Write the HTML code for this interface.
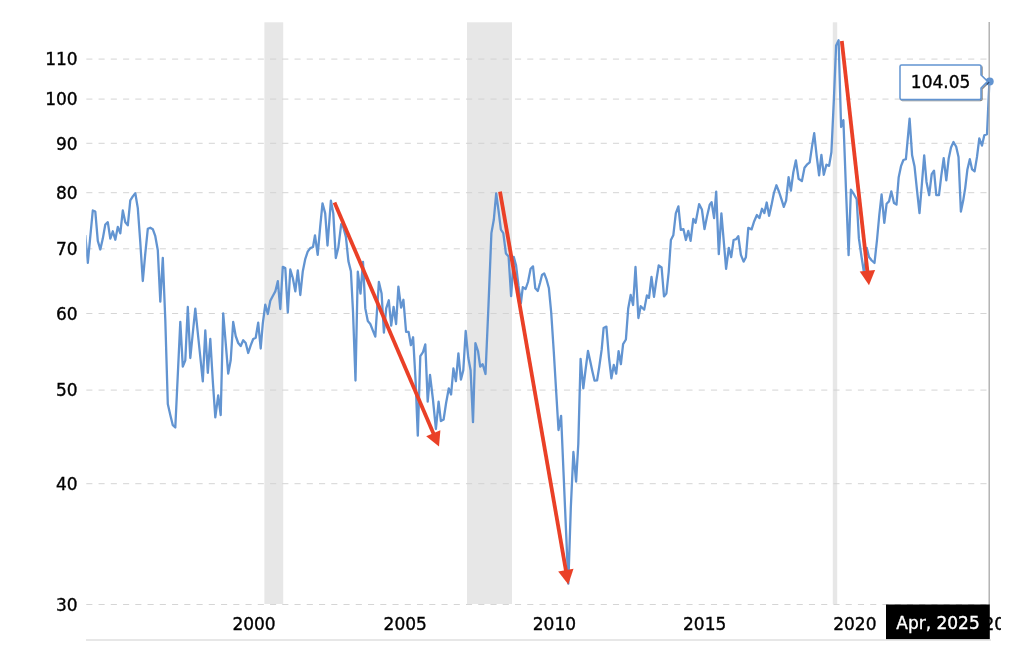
<!DOCTYPE html>
<html lang="en"><head><meta charset="utf-8"><title>Chart</title>
<style>html,body{margin:0;padding:0;background:#fff;}body{width:1024px;height:666px;overflow:hidden;}svg{display:block;}</style>
</head><body>
<svg width="1024" height="666" viewBox="0 0 1024 666">
<defs><clipPath id="cl"><rect x="0" y="0" width="1001" height="666"/></clipPath><clipPath id="pl"><rect x="86.2" y="20" width="905" height="600"/></clipPath><filter id="sh" x="-10%" y="-20%" width="125%" height="150%"><feDropShadow dx="1" dy="1" stdDeviation="0.6" flood-color="#000" flood-opacity="0.45"/></filter></defs>
<rect width="1024" height="666" fill="#fff"/>
<rect x="264.4" y="22.3" width="18.8" height="581.7" fill="#e7e7e7"/>
<rect x="467.0" y="22.3" width="45.0" height="581.7" fill="#e7e7e7"/>
<rect x="832.8" y="22.3" width="4.4" height="581.7" fill="#e7e7e7"/>
<line x1="86.3" y1="59.1" x2="989" y2="59.1" stroke="#d0d0d0" stroke-width="0.9" stroke-dasharray="6.1 6.148"/>
<line x1="86.3" y1="99.1" x2="989" y2="99.1" stroke="#d0d0d0" stroke-width="0.9" stroke-dasharray="6.1 6.148"/>
<line x1="86.3" y1="143.3" x2="989" y2="143.3" stroke="#d0d0d0" stroke-width="0.9" stroke-dasharray="6.1 6.148"/>
<line x1="86.3" y1="192.7" x2="989" y2="192.7" stroke="#d0d0d0" stroke-width="0.9" stroke-dasharray="6.1 6.148"/>
<line x1="86.3" y1="248.8" x2="989" y2="248.8" stroke="#d0d0d0" stroke-width="0.9" stroke-dasharray="6.1 6.148"/>
<line x1="86.3" y1="313.5" x2="989" y2="313.5" stroke="#d0d0d0" stroke-width="0.9" stroke-dasharray="6.1 6.148"/>
<line x1="86.3" y1="390.1" x2="989" y2="390.1" stroke="#d0d0d0" stroke-width="0.9" stroke-dasharray="6.1 6.148"/>
<line x1="86.3" y1="483.7" x2="989" y2="483.7" stroke="#d0d0d0" stroke-width="0.9" stroke-dasharray="6.1 6.148"/>
<line x1="86.3" y1="604.5" x2="989" y2="604.5" stroke="#d0d0d0" stroke-width="0.9" stroke-dasharray="6.1 6.148"/>
<line x1="86" y1="640" x2="991" y2="640" stroke="#d0d0d0" stroke-width="1.2"/>
<g font-family="'DejaVu Sans', 'Liberation Sans', sans-serif" font-size="17" fill="#000" stroke="#000" stroke-width="0.35">
<text x="77.6" y="65.3" text-anchor="end">110</text>
<text x="77.6" y="105.3" text-anchor="end">100</text>
<text x="77.6" y="149.5" text-anchor="end">90</text>
<text x="77.6" y="198.9" text-anchor="end">80</text>
<text x="77.6" y="255.0" text-anchor="end">70</text>
<text x="77.6" y="319.7" text-anchor="end">60</text>
<text x="77.6" y="396.3" text-anchor="end">50</text>
<text x="77.6" y="489.9" text-anchor="end">40</text>
<text x="77.6" y="610.7" text-anchor="end">30</text>
<text x="232.4" y="630.2">2000</text>
<text x="383.6" y="630.2">2005</text>
<text x="532.8" y="630.2">2010</text>
<text x="683.0" y="630.2">2015</text>
<text x="833.2" y="630.2">2020</text>
<text x="983.4" y="630.2" clip-path="url(#cl)">2025</text>
</g>
<path d="M85.3,235.0 L87.8,262.8 L90.3,236.3 L92.8,210.5 L95.3,211.6 L97.8,240.9 L100.3,249.5 L102.8,238.6 L105.3,224.5 L107.8,222.2 L110.3,238.6 L112.8,231.3 L115.3,239.7 L117.8,226.9 L120.3,233.4 L122.8,210.5 L125.3,222.2 L127.8,225.3 L130.3,200.3 L132.8,196.4 L135.3,193.3 L137.8,208.1 L140.3,242.5 L142.8,281.0 L145.3,253.4 L147.8,228.8 L150.3,227.7 L152.8,229.2 L155.3,236.2 L157.8,250.3 L160.3,301.6 L162.8,257.8 L165.3,320.0 L167.8,404.0 L170.3,415.0 L172.8,425.2 L175.3,427.5 L177.8,374.7 L180.3,321.9 L182.8,366.6 L185.3,360.3 L187.8,307.0 L190.3,358.0 L192.8,333.0 L195.3,308.6 L197.8,333.0 L200.3,357.0 L202.8,381.4 L205.3,330.5 L207.8,372.8 L210.3,339.0 L212.8,381.0 L215.3,417.3 L218.2,395.5 L220.7,415.0 L223.2,313.3 L225.7,343.0 L228.2,373.6 L230.7,360.3 L233.2,321.9 L235.7,336.0 L238.2,343.0 L240.7,346.0 L243.2,340.3 L245.7,343.0 L248.2,353.0 L250.7,345.3 L253.2,339.0 L255.7,337.8 L258.2,322.7 L260.7,348.5 L262.8,323.4 L265.3,304.7 L267.8,314.0 L270.3,300.8 L272.8,296.0 L275.3,291.4 L277.8,281.2 L280.3,309.0 L282.8,266.9 L285.3,268.0 L287.8,312.5 L290.3,269.5 L292.8,278.0 L295.3,291.4 L297.8,270.3 L300.3,295.0 L302.8,271.2 L305.3,258.8 L307.7,251.7 L310.3,248.1 L313.0,247.0 L315.0,235.3 L317.7,254.8 L320.2,226.7 L322.5,203.3 L325.2,213.4 L327.5,245.5 L330.9,200.6 L333.3,213.4 L335.8,258.0 L338.3,247.8 L341.2,224.1 L343.4,227.5 L345.9,236.9 L348.4,261.1 L350.9,271.2 L353.0,311.6 L355.5,380.5 L357.8,271.7 L360.5,293.6 L363.0,261.9 L365.3,308.4 L367.8,321.0 L370.3,324.0 L372.8,330.3 L375.3,336.6 L378.9,281.9 L381.6,293.6 L383.9,332.7 L386.2,308.4 L388.8,300.3 L391.2,325.6 L393.6,306.9 L396.1,324.0 L398.4,286.6 L401.1,307.7 L403.4,299.8 L406.1,331.9 L408.6,331.9 L410.9,345.2 L413.1,337.3 L415.6,381.0 L417.8,435.6 L420.3,356.2 L423.0,352.2 L425.3,344.4 L427.7,401.6 L430.0,375.0 L432.9,399.0 L435.9,429.0 L438.6,401.6 L440.9,421.1 L443.6,419.5 L446.1,403.0 L448.8,388.3 L451.1,394.5 L453.4,368.5 L455.9,381.2 L458.4,353.3 L460.9,379.7 L463.3,370.3 L465.7,331.0 L468.3,357.8 L470.6,370.3 L473.0,422.2 L475.4,343.2 L478.0,351.0 L480.2,366.6 L482.7,364.2 L485.5,374.0 L488.5,305.0 L491.4,233.1 L493.8,219.8 L496.2,193.3 L498.6,211.2 L500.9,229.7 L503.3,233.1 L505.9,253.4 L508.6,256.6 L511.1,296.1 L513.8,257.0 L516.1,265.6 L518.5,286.0 L520.9,303.0 L522.8,287.2 L525.6,289.0 L528.0,282.0 L530.6,268.8 L533.0,266.4 L535.3,288.3 L537.8,291.0 L540.0,283.0 L542.0,275.0 L544.2,273.4 L546.6,279.7 L548.9,288.3 L551.2,312.5 L553.8,352.0 L556.2,392.0 L558.5,430.0 L561.1,415.8 L563.5,472.0 L566.0,530.0 L568.3,583.6 L570.8,508.0 L573.4,452.0 L576.1,481.7 L578.3,444.0 L580.6,358.8 L583.3,388.4 L585.6,369.5 L588.0,351.0 L590.2,361.0 L592.3,371.0 L594.5,380.6 L597.1,380.3 L599.3,366.5 L601.7,349.4 L603.6,328.1 L606.4,326.6 L608.9,357.0 L611.4,378.3 L613.8,365.0 L616.2,373.6 L618.6,351.2 L620.9,364.2 L623.1,344.2 L625.9,339.5 L628.2,308.5 L630.7,295.0 L633.1,305.0 L635.5,267.0 L638.4,318.0 L640.7,306.2 L642.5,308.0 L644.2,309.6 L646.9,295.4 L649.0,297.9 L651.5,276.9 L654.0,296.9 L656.4,280.0 L658.7,265.5 L661.6,267.5 L664.0,296.4 L666.4,293.5 L668.7,272.0 L670.9,240.0 L673.3,235.3 L675.8,213.4 L678.4,206.4 L680.8,229.8 L683.4,229.1 L685.9,240.0 L688.3,230.9 L690.6,240.8 L693.3,218.9 L695.6,222.8 L699.1,204.1 L701.9,209.5 L704.5,229.1 L707.0,216.6 L709.7,204.8 L711.6,202.2 L714.1,218.1 L716.2,191.6 L718.8,254.1 L721.4,213.4 L723.8,241.6 L726.1,268.9 L728.8,247.8 L731.2,257.2 L733.6,240.0 L736.2,239.2 L738.3,236.1 L740.9,254.8 L743.6,261.6 L745.9,257.2 L748.3,227.8 L751.6,229.4 L754.2,221.2 L756.9,215.0 L759.4,218.1 L762.0,208.8 L764.4,213.1 L766.7,202.5 L769.1,215.8 L771.4,205.6 L773.9,193.0 L776.4,185.3 L778.8,191.2 L781.4,199.1 L783.8,206.9 L786.1,200.6 L788.6,177.2 L790.9,190.5 L793.3,172.5 L795.9,160.3 L798.6,178.8 L801.9,181.1 L804.5,167.8 L806.9,164.7 L809.7,162.3 L812.0,146.7 L814.2,133.1 L816.6,155.3 L819.1,175.3 L821.4,155.0 L823.8,174.8 L826.4,164.7 L829.1,165.9 L831.4,152.2 L833.9,99.0 L836.1,45.4 L838.6,40.3 L841.1,127.0 L843.4,120.2 L846.0,190.0 L848.6,255.2 L850.9,189.7 L853.8,194.0 L856.7,199.2 L858.9,238.4 L861.4,256.0 L864.2,274.0 L866.8,248.0 L869.0,257.0 L871.7,260.5 L874.5,263.0 L877.0,240.0 L879.3,215.0 L881.6,194.5 L884.3,222.8 L886.6,203.8 L889.0,201.4 L891.3,191.3 L894.0,203.1 L896.5,204.6 L898.7,177.2 L901.0,166.2 L903.4,160.0 L905.9,159.2 L909.6,118.6 L912.1,155.3 L914.5,166.2 L917.1,191.2 L919.5,213.1 L921.8,185.0 L924.2,155.3 L926.5,181.9 L929.2,195.2 L931.7,174.1 L934.0,170.6 L936.3,195.2 L939.0,195.2 L941.3,175.6 L943.7,158.1 L946.3,180.3 L948.7,158.4 L951.0,147.5 L953.5,142.0 L956.2,146.7 L958.5,156.9 L960.9,211.6 L963.2,200.6 L965.2,188.1 L967.4,169.4 L969.8,159.2 L972.1,169.4 L974.6,171.4 L977.0,156.9 L979.3,138.4 L982.0,145.6 L984.3,135.3 L987.0,134.2 L989.4,81.4" fill="none" stroke="#6294d1" stroke-width="2.3" stroke-linejoin="round" stroke-linecap="butt" clip-path="url(#pl)"/>
<line x1="334.5" y1="202.5" x2="434.1" y2="435.1" stroke="#ea4027" stroke-width="3.8"/><polygon points="439.0,446.6 426.2,436.3 440.4,430.2" fill="#ea4027"/>
<line x1="500.0" y1="191.7" x2="566.2" y2="572.1" stroke="#ea4027" stroke-width="3.8"/><polygon points="568.3,584.4 558.2,571.4 573.5,568.8" fill="#ea4027"/>
<line x1="841.8" y1="41.0" x2="867.6" y2="272.8" stroke="#ea4027" stroke-width="3.8"/><polygon points="869.0,285.2 859.7,271.6 875.1,269.9" fill="#ea4027"/>
<line x1="989.2" y1="22" x2="989.2" y2="605" stroke="#a8a8a8" stroke-width="1.3"/>
<rect x="886" y="604.5" width="103.8" height="34.6" fill="#000"/>
<text x="938" y="628.7" text-anchor="middle" font-family="'DejaVu Sans', 'Liberation Sans', sans-serif" font-size="17" fill="#fff" stroke="#fff" stroke-width="0.35">Apr, 2025</text>
<circle cx="989.7" cy="81.4" r="4" fill="#6294d1"/>
<path d="M901.5,65 H979.5 Q981,65 981,66.5 V75 L987.6,81.4 L981,88 V98 Q981,99.5 979.5,99.5 H901.5 Q900,99.5 900,98 V66.5 Q900,65 901.5,65 Z" fill="#fff" stroke="#6294d1" stroke-width="1.5" filter="url(#sh)"/>
<text x="940.6" y="88.2" text-anchor="middle" font-family="'DejaVu Sans', 'Liberation Sans', sans-serif" font-size="17" fill="#000" stroke="#000" stroke-width="0.35">104.05</text>
</svg>
</body></html>
